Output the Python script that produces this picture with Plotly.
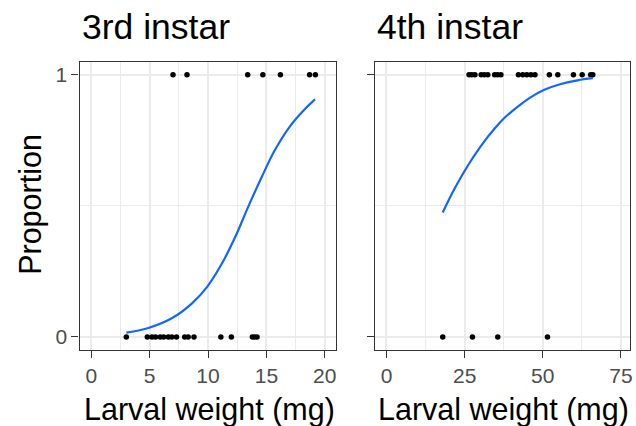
import plotly.graph_objects as go

# ---- data ----
third_success_x = [7.0, 8.2, 13.4, 14.7, 16.2, 18.7, 19.2]
third_fail_x = [3.0, 4.8, 5.2, 5.5, 5.9, 6.2, 6.6, 6.9, 7.3, 8.0, 8.3, 8.8,
                11.1, 12.0, 13.8, 14.0, 14.2]
fourth_success_x = [26.4, 27.3, 28.3, 30.3, 31.3, 32.4, 34.6, 35.5, 36.6,
                    42.2, 43.6, 44.9, 46.2, 47.5, 52.1, 54.8, 59.8, 62.6, 65.3, 66.0]
fourth_fail_x = [18.0, 27.5, 35.6, 51.5]

third_curve_x = [3.0, 4.95, 6.93, 8.63, 9.91, 11.18, 12.32, 13.45, 14.58, 15.72, 17.13, 18.27, 19.17]
third_curve_y = [0.016, 0.035, 0.072, 0.128, 0.19, 0.279, 0.38, 0.497, 0.608, 0.712, 0.81, 0.868, 0.906]
fourth_curve_x = [18.0, 21.8, 26.0, 30.3, 34.6, 37.7, 42.0, 46.2, 50.5, 55.8, 61.1, 66.0]
fourth_curve_y = [0.475, 0.566, 0.653, 0.73, 0.795, 0.835, 0.879, 0.915, 0.943, 0.965, 0.979, 0.987]

panel_titles = ["3rd instar", "4th instar"]
x_title = "Larval weight (mg)"
y_title = "Proportion"
y_ticks = [0, 1]
x1_ticks = [0, 5, 10, 15, 20]
x2_ticks = [0, 25, 50, 75]

FONT = "Liberation Sans, Arial, sans-serif"
W, H = 636, 426
BLUE = "#1166FF"

fig = go.Figure()

def pts(xs, yval, xa, ya):
    fig.add_trace(go.Scatter(x=xs, y=[yval] * len(xs), mode="markers",
                             marker=dict(color="black", size=5.5),
                             xaxis=xa, yaxis=ya, showlegend=False, hoverinfo="skip"))

pts(third_success_x, 1, "x", "y")
pts(third_fail_x, 0, "x", "y")
pts(fourth_success_x, 1, "x2", "y2")
pts(fourth_fail_x, 0, "x2", "y2")

fig.add_trace(go.Scatter(x=third_curve_x, y=third_curve_y, mode="lines",
                         line=dict(color=BLUE, width=2.2, shape="spline", smoothing=1.0),
                         xaxis="x", yaxis="y", showlegend=False))
fig.add_trace(go.Scatter(x=fourth_curve_x, y=fourth_curve_y, mode="lines",
                         line=dict(color=BLUE, width=2.2, shape="spline", smoothing=1.0),
                         xaxis="x2", yaxis="y2", showlegend=False))

grid = "#EBEBEB"
border = "#333333"
tickfont = dict(family=FONT, size=21, color="#4D4D4D")

def xaxis(domain, rng, ticks, minor_step, anchor):
    return dict(domain=domain, range=rng, tickvals=ticks, ticktext=[str(t) for t in ticks],
                showgrid=True, gridcolor=grid, gridwidth=2,
                minor=dict(dtick=minor_step, tick0=0, showgrid=True, gridcolor=grid, gridwidth=1, ticks=""),
                showline=True, linecolor=border, linewidth=1.3, mirror=True,
                ticks="outside", ticklen=7, tickwidth=1.3, tickcolor=border,
                tickfont=tickfont, zeroline=False, anchor=anchor, fixedrange=True)

def yaxis(domain, showlabels, anchor):
    return dict(domain=domain, range=[-0.05, 1.05], tickvals=y_ticks,
                ticktext=[str(t) for t in y_ticks], showticklabels=showlabels,
                showgrid=True, gridcolor=grid, gridwidth=2,
                minor=dict(dtick=0.5, tick0=0, showgrid=True, gridcolor=grid, gridwidth=1, ticks=""),
                showline=True, linecolor=border, linewidth=1.3, mirror=True,
                ticks="outside", ticklen=7, tickwidth=1.3, tickcolor=border,
                tickfont=tickfont, zeroline=False, anchor=anchor, fixedrange=True)

ydom = [1 - 350 / H, 1 - 61.7 / H]
fig.update_layout(
    width=W, height=H, margin=dict(l=0, r=0, t=0, b=0),
    paper_bgcolor="white", plot_bgcolor="white",
    xaxis=xaxis([80 / W, 338 / W], [-1, 21], x1_ticks, 2.5, "y"),
    yaxis=yaxis(ydom, True, "x"),
    xaxis2=xaxis([377 / W, 633 / W], [-3.6, 77.9], x2_ticks, 12.5, "y2"),
    yaxis2=yaxis(ydom, False, "x2"),
)

ann = []
for xpx, t in zip([80, 377], panel_titles):
    ann.append(dict(text=t, x=xpx / W, y=1 - 27.5 / H, xref="paper", yref="paper",
                    xanchor="left", yanchor="middle", showarrow=False,
                    font=dict(family=FONT, size=35.5, color="black")))
for xc in [210, 506]:
    ann.append(dict(text=x_title, x=xc / W, y=1 - 409 / H, xref="paper", yref="paper",
                    xanchor="center", yanchor="middle", showarrow=False,
                    font=dict(family=FONT, size=30.5, color="black")))
ann.append(dict(text=y_title, x=30 / W, y=1 - 204 / H, xref="paper", yref="paper",
                xanchor="center", yanchor="middle", showarrow=False, textangle=-90,
                font=dict(family=FONT, size=30.5, color="black")))
fig.update_layout(annotations=ann)

fig.write_html("out.html")
